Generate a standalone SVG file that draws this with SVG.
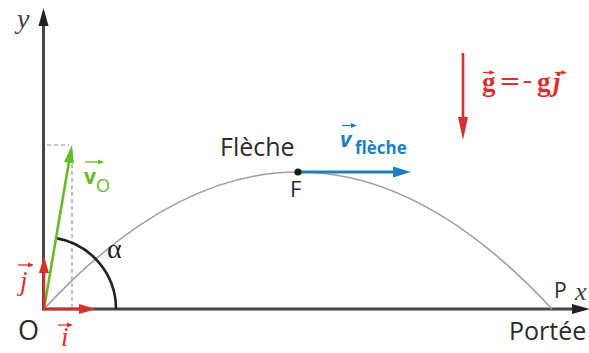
<svg xmlns="http://www.w3.org/2000/svg" width="589" height="353" viewBox="0 0 589 353">
<style>
.axis{stroke:#454545;stroke-width:3;fill:none}
.axhead{fill:#222}
.traj{stroke:#a0a0a0;stroke-width:1.6;fill:none}
.dash{stroke:#b0b0b0;stroke-width:1.6;stroke-dasharray:4 3;fill:none}
.red{stroke:#d8312b;stroke-width:2.6;fill:none}
.redf{fill:#d8312b}
.green{stroke:#66bb2a;stroke-width:2.6;fill:none}
.greenf{fill:#66bb2a}
.blue{stroke:#1f7fc0;stroke-width:3;fill:none}
.bluef{fill:#1f7fc0}
.arc{stroke:#222;stroke-width:2.6;fill:none}
.sans{font-family:"Open Sans","Noto Sans",sans-serif;fill:#2b2b2b}
.serif{font-family:"Liberation Serif","DejaVu Serif",serif}
.vec{stroke-width:1.3;fill:none}
</style>
<g id="axes">
  <line class="axis" x1="43.5" y1="309" x2="43.5" y2="22"/>
  <polygon class="axhead" points="43.5,8 38.5,26 48.5,26"/>
  <line class="axis" x1="42" y1="309" x2="574" y2="309"/>
  <polygon class="axhead" points="590,309 572,304 572,314"/>
  <text class="serif" x="17" y="28" font-size="28" font-style="italic" fill="#444">y</text>
  <text class="serif" x="575" y="300" font-size="26" font-style="italic" fill="#444">x</text>
</g>
<g id="connectors">
  <path id="trajectory" class="traj" d="M44,309 Q298,35 552,309"/>
  <line class="dash" x1="47" y1="145" x2="69" y2="145"/>
  <line class="dash" x1="72" y1="150" x2="72" y2="308"/>
  <path class="arc" d="M116,309 A72,72 0 0 0 56.1,238.1"/>
</g>
<g id="v0">
  <line class="green" x1="44" y1="309" x2="69.3" y2="160"/>
  <polygon class="greenf" points="72,145 73.9,163.5 64.1,161.9"/>
  <line class="vec" stroke="#66bb2a" x1="85" y1="162" x2="100" y2="162"/>
  <polygon class="greenf" points="104,162 98,159.5 98,164.5"/>
  <text x="84" y="184" font-family="Open Sans,Noto Sans,sans-serif" font-size="21" font-weight="bold" fill="#66bb2a">v</text>
  <text x="96" y="192" font-family="Open Sans,Noto Sans,sans-serif" font-size="18" fill="#66bb2a">O</text>
</g>
<g id="unit-vectors">
  <line class="red" x1="44" y1="309" x2="44" y2="272"/>
  <polygon class="redf" points="44,256 39,273 49,273"/>
  <line class="red" x1="43" y1="309" x2="80" y2="309"/>
  <polygon class="redf" points="96,309 79,304 79,314"/>
  <line class="vec" stroke="#d8312b" x1="18" y1="265" x2="30" y2="265"/>
  <polygon class="redf" points="34,265 28,262.5 28,267.5"/>
  <text class="serif" x="20" y="290" font-size="27" font-style="italic" fill="#d8312b">j</text>
  <line class="vec" stroke="#d8312b" x1="58" y1="325" x2="69" y2="325"/>
  <polygon class="redf" points="73,325 67,322.5 67,327.5"/>
  <text class="serif" x="61" y="346" font-size="27" font-style="italic" fill="#d8312b">i</text>
</g>
<g id="origin">
  <text class="sans" x="18" y="340" font-size="27">O</text>
</g>
<g id="alpha">
  <text class="serif" x="107" y="258" font-size="28" fill="#222">α</text>
</g>
<g id="fleche">
  <line class="blue" x1="298" y1="172" x2="394" y2="172"/>
  <polygon class="bluef" points="411,172 393,166.5 393,177.5"/>
  <circle cx="298" cy="172" r="3.6" fill="#1a1a1a"/>
  <text class="sans" x="220" y="156" font-size="25">Flèche</text>
  <text class="sans" x="290" y="197" font-size="22">F</text>
  <line class="vec" stroke="#1f7fc0" x1="342" y1="125.5" x2="353" y2="125.5"/>
  <polygon class="bluef" points="357,125.5 351,123 351,128"/>
  <text x="340" y="147" font-family="Open Sans,Noto Sans,sans-serif" font-size="22" font-weight="bold" font-style="italic" fill="#1f7fc0">v</text>
  <text x="355" y="154" font-family="Open Sans,Noto Sans,sans-serif" font-size="17" font-weight="bold" fill="#1f7fc0">flèche</text>
</g>
<g id="portee">
  <text class="sans" x="554" y="298" font-size="21">P</text>
  <text class="sans" x="509" y="340" font-size="25">Portée</text>
</g>
<g id="gravity">
  <line class="red" x1="463" y1="53" x2="463" y2="120"/>
  <polygon class="redf" points="463,140 458,117 468,117"/>
  <line class="vec" stroke="#d8312b" x1="483" y1="72.5" x2="491" y2="72.5"/>
  <polygon class="redf" points="495,72.5 489.5,70.3 489.5,74.7"/>
  <line class="vec" stroke="#d8312b" x1="555" y1="72.5" x2="563" y2="72.5"/>
  <polygon class="redf" points="567,72.5 561.5,70.3 561.5,74.7"/>
  <text class="serif" y="91" font-size="27" font-weight="bold" fill="#d8312b"><tspan x="482">g</tspan><tspan x="500" textLength="20" lengthAdjust="spacingAndGlyphs">=</tspan><tspan x="523" textLength="9" lengthAdjust="spacingAndGlyphs">−</tspan><tspan x="537">g</tspan><tspan x="553" font-style="italic">j</tspan></text>
</g>
</svg>
